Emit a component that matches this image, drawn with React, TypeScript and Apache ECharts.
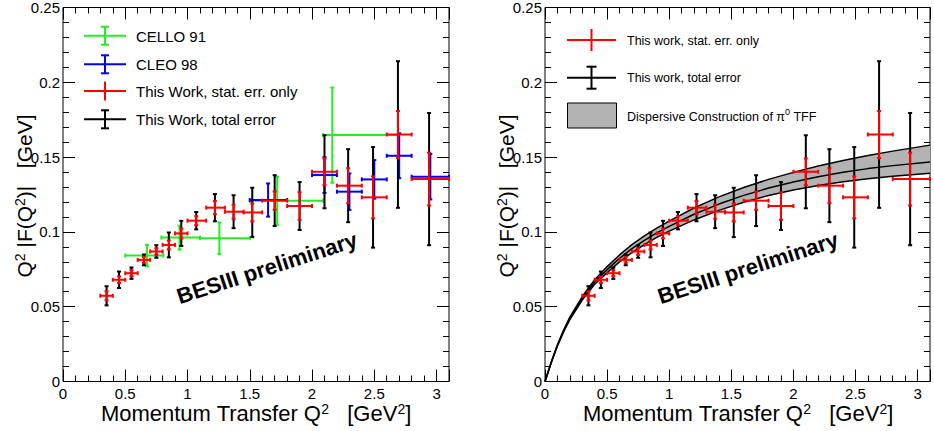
import React, { useEffect, useRef } from 'react';
import * as echarts from 'echarts';

// ---- This work (BESIII preliminary) ----
const q2 = [0.35, 0.45, 0.55, 0.65, 0.75, 0.85, 0.95, 1.07, 1.22, 1.37, 1.52, 1.70, 1.90, 2.10, 2.29, 2.49, 2.69, 2.94];
const binLo = [0.3, 0.4, 0.5, 0.6, 0.7, 0.8, 0.9, 1.0, 1.15, 1.3, 1.45, 1.6, 1.8, 2.0, 2.2, 2.4, 2.6, 2.8];
const binHi = [0.4, 0.5, 0.6, 0.7, 0.8, 0.9, 1.0, 1.15, 1.3, 1.45, 1.6, 1.8, 2.0, 2.2, 2.4, 2.6, 2.8, 3.1];
const tff = [0.0573, 0.0680, 0.0724, 0.0813, 0.0869, 0.0913, 0.0990, 0.1075, 0.1162, 0.1135, 0.1130, 0.1209, 0.1173, 0.1402, 0.1309, 0.1231, 0.1651, 0.1353];
const statErr = [0.0030, 0.0022, 0.0020, 0.0020, 0.0022, 0.0030, 0.0033, 0.0030, 0.0044, 0.0047, 0.0060, 0.0061, 0.0092, 0.0089, 0.0117, 0.0140, 0.0157, 0.0176];
const totErr = [0.0064, 0.0055, 0.0038, 0.0036, 0.0042, 0.0083, 0.0084, 0.0058, 0.0091, 0.0110, 0.0165, 0.0170, 0.0160, 0.0244, 0.0244, 0.0336, 0.0490, 0.0442];

// ---- CELLO 91 ----
const celloX = [0.675, 0.936, 1.256, 1.72, 2.163];
const celloLo = [0.5, 0.79, 1.1, 1.5, 2.09];
const celloHi = [0.806, 1.1, 1.5, 2.09, 2.69];
const celloY = [0.0842, 0.0962, 0.0958, 0.1209, 0.1647];
const celloErr = [0.0072, 0.0080, 0.0105, 0.0160, 0.0318];

// ---- CLEO 98 ----
const cleoX = [1.647, 2.1, 2.3, 2.5, 2.7, 2.95];
const cleoLo = [1.5, 2.0, 2.2, 2.4, 2.6, 2.8];
const cleoHi = [1.8, 2.2, 2.4, 2.6, 2.8, 3.1];
const cleoY = [0.1213, 0.1380, 0.1269, 0.1351, 0.1509, 0.1369];
const cleoErr = [0.0111, 0.0120, 0.0122, 0.0129, 0.0150, 0.0152];

// ---- Dispersive construction band ----
const bandX = [0, 0.05, 0.1, 0.15, 0.2, 0.3, 0.4, 0.5, 0.6, 0.7, 0.8, 0.9, 1.0, 1.2, 1.4, 1.6, 1.8, 2.0, 2.2, 2.4, 2.6, 2.8, 3.1];
const bandLow = [0, 0.0125, 0.0237, 0.0332, 0.0414, 0.0544, 0.0650, 0.0728, 0.0800, 0.0862, 0.0915, 0.0963, 0.1005, 0.1080, 0.1144, 0.1198, 0.1243, 0.1280, 0.1310, 0.1335, 0.1355, 0.1372, 0.1392];
const bandMid = [0, 0.0127, 0.0241, 0.0338, 0.0422, 0.0556, 0.0665, 0.0748, 0.0823, 0.0888, 0.0943, 0.0993, 0.1037, 0.1118, 0.1186, 0.1244, 0.1293, 0.1334, 0.1369, 0.1398, 0.1423, 0.1443, 0.1468];
const bandHigh = [0, 0.0129, 0.0245, 0.0344, 0.0430, 0.0568, 0.0680, 0.0768, 0.0846, 0.0915, 0.0973, 0.1025, 0.1072, 0.1160, 0.1234, 0.1297, 0.1351, 0.1398, 0.1440, 0.1477, 0.1510, 0.1540, 0.1580];

const FONT = '"Liberation Sans", Arial, Helvetica, sans-serif';
const GREEN = '#22ee22';
const BLUE = '#0000ff';
const RED = '#ff0000';
const GRAY = '#b3b3b3';

function errorBars(color: string, lw: number, cap: number, horiz: boolean) {
  return (_params: any, api: any) => {
    const x = api.value(0);
    const y = api.value(1);
    const c = api.coord([x, y]);
    const l = api.coord([api.value(2), y]);
    const r = api.coord([api.value(3), y]);
    const b = api.coord([x, api.value(4)]);
    const t = api.coord([x, api.value(5)]);
    const style = { stroke: color, lineWidth: lw, fill: 'none' };
    const seg = (x1: number, y1: number, x2: number, y2: number) => ({
      type: 'line',
      shape: { x1, y1, x2, y2 },
      style,
    });
    const ch: any[] = [];
    if (horiz) {
      ch.push(seg(l[0], c[1], r[0], c[1]));
      ch.push(seg(l[0], c[1] - cap, l[0], c[1] + cap));
      ch.push(seg(r[0], c[1] - cap, r[0], c[1] + cap));
    }
    ch.push(seg(c[0], b[1], c[0], t[1]));
    ch.push(seg(c[0] - cap, b[1], c[0] + cap, b[1]));
    ch.push(seg(c[0] - cap, t[1], c[0] + cap, t[1]));
    return { type: 'group', children: ch };
  };
}

function bandRender(_params: any, api: any) {
  if (_params.dataIndex !== 0) return null;
  const pts: number[][] = [];
  bandX.forEach((x, i) => pts.push(api.coord([x, bandHigh[i]])));
  for (let i = bandX.length - 1; i >= 0; i--) pts.push(api.coord([bandX[i], bandLow[i]]));
  return { type: 'polygon', shape: { points: pts }, style: { fill: GRAY, stroke: 'none' } };
}

const tickStyle = { color: '#000', width: 1 };

function fmt(v: number) {
  return String(parseFloat(v.toFixed(3)));
}

function xAxes(g: number) {
  const base = {
    gridIndex: g,
    type: 'value',
    min: 0,
    max: 3.1,
    splitLine: { show: false },
    axisLine: { show: false, onZero: false },
    axisLabel: { show: false },
  };
  const major = (pos: string, lab: boolean) => ({
    ...base,
    position: pos,
    interval: 0.5,
    axisTick: { show: true, inside: true, length: 12, lineStyle: tickStyle },
    axisLabel: lab
      ? {
          show: true,
          margin: 4,
          fontSize: 15,
          lineHeight: 15,
          fontFamily: FONT,
          color: '#000',
          formatter: (v: number) => (Math.abs(v * 2 - Math.round(v * 2)) < 1e-6 ? fmt(v) : ''),
        }
      : { show: false },
  });
  const minor = (pos: string) => ({
    ...base,
    position: pos,
    interval: 0.1,
    axisTick: { show: true, inside: true, length: 6, lineStyle: tickStyle },
  });
  return [minor('bottom'), major('bottom', true), minor('top'), major('top', false)];
}

function yAxes(g: number) {
  const base = {
    gridIndex: g,
    type: 'value',
    min: 0,
    max: 0.25,
    splitLine: { show: false },
    axisLine: { show: false, onZero: false },
    axisLabel: { show: false },
  };
  const major = (pos: string, lab: boolean) => ({
    ...base,
    position: pos,
    interval: 0.05,
    axisTick: { show: true, inside: true, length: 12, lineStyle: tickStyle },
    axisLabel: lab
      ? { show: true, margin: 3, fontSize: 15, lineHeight: 15, fontFamily: FONT, color: '#000', formatter: (v: number) => fmt(v) }
      : { show: false },
  });
  const minor = (pos: string) => ({
    ...base,
    position: pos,
    interval: 0.01,
    axisTick: { show: true, inside: true, length: 6, lineStyle: tickStyle },
  });
  return [minor('left'), major('left', true), minor('right'), major('right', false)];
}

function statData() {
  return q2.map((x, i) => [x, tff[i], binLo[i], binHi[i], tff[i] - statErr[i], tff[i] + statErr[i]]);
}
function totData() {
  return q2.map((x, i) => [x, tff[i], binLo[i], binHi[i], tff[i] - totErr[i], tff[i] + totErr[i]]);
}

function richText(text: string, size: number, supSize: number, aLH: number, sLH: number) {
  return {
    text,
    rich: {
      a: { fontSize: size, fontFamily: FONT, fill: '#000', lineHeight: aLH, verticalAlign: 'bottom' },
      s: { fontSize: supSize, fontFamily: FONT, fill: '#000', lineHeight: sLH, verticalAlign: 'top' },
    },
  };
}

function seg(x1: number, y1: number, x2: number, y2: number, color: string, lw = 2) {
  return { type: 'line', silent: true, shape: { x1, y1, x2, y2 }, style: { stroke: color, lineWidth: lw } };
}

function legendCross(cx: number, cy: number, half: number, vHalf: number, color: string, cap: number) {
  const els: any[] = [seg(cx - half, cy, cx + half, cy, color), seg(cx, cy - vHalf, cx, cy + vHalf, color)];
  if (cap > 0) {
    els.push(seg(cx - cap, cy - vHalf, cx + cap, cy - vHalf, color));
    els.push(seg(cx - cap, cy + vHalf, cx + cap, cy + vHalf, color));
  }
  return els;
}

function txt(x: number, y: number, text: string, size: number, extra: any = {}) {
  return {
    type: 'text',
    silent: true,
    x,
    y,
    style: {
      text,
      fontSize: size,
      fontFamily: FONT,
      fill: '#000',
      align: 'left',
      verticalAlign: 'middle',
      textAlign: 'left',
      textVerticalAlign: 'middle',
      ...extra,
    },
  };
}

function buildOption() {
  const S = '\u00a0';
  const graphics: any[] = [];
  // Left legend
  graphics.push(...legendCross(105, 35.7, 21, 9, GREEN, 4));
  graphics.push(txt(136, 36, 'CELLO 91', 15));
  graphics.push(...legendCross(105, 64.3, 21, 9, BLUE, 4));
  graphics.push(txt(136, 64.5, 'CLEO 98', 15));
  graphics.push(...legendCross(105, 91, 21, 9.5, RED, 0));
  graphics.push(txt(136, 91.5, 'This Work, stat. err. only', 15));
  graphics.push(...legendCross(105, 119.3, 21, 9, '#000', 4));
  graphics.push(txt(136, 119.5, 'This Work, total error', 15));
  // Right legend
  graphics.push(...legendCross(591.5, 40, 24.5, 11, RED, 0));
  graphics.push(txt(627, 40.5, 'This work, stat. err. only', 12.5));
  graphics.push(...legendCross(591.5, 77.7, 24.5, 11, '#000', 5));
  graphics.push(txt(627, 78, 'This work, total error', 12.5));
  graphics.push({
    type: 'rect',
    silent: true,
    shape: { x: 567.5, y: 103, width: 49, height: 25 },
    style: { fill: GRAY, stroke: '#000', lineWidth: 1 },
  });
  graphics.push({
    type: 'text',
    silent: true,
    x: 627,
    y: 115.5,
    style: {
      ...richText(`{a|Dispersive Construction of \u03c0}{s|0}{a|${S}TFF}`, 12.5, 9, 16.5, 10),
      align: 'left',
      verticalAlign: 'middle',
      textAlign: 'left',
      textVerticalAlign: 'middle',
    },
  });
  // BESIII preliminary
  const rot = (18 * Math.PI) / 180;
  [267, 748].forEach((cx) => {
    graphics.push({
      type: 'text',
      silent: true,
      x: cx,
      y: 268,
      rotation: rot,
      style: {
        text: 'BESIII preliminary',
        fontSize: 22,
        fontWeight: 'bold',
        fontFamily: FONT,
        fill: '#000',
        align: 'center',
        verticalAlign: 'middle',
        textAlign: 'center',
        textVerticalAlign: 'middle',
      },
    });
  });
  // Axis titles
  const xTitle = `{a|Momentum Transfer Q}{s|2}{a|${S}${S}${S}[GeV}{s|2}{a|]}`;
  const yTitle = `{a|Q}{s|2}{a|${S}|F(Q}{s|2}{a|)|${S}${S}${S}[GeV]}`;
  [256, 738].forEach((cx) => {
    graphics.push({
      type: 'text',
      silent: true,
      x: cx,
      y: 413,
      style: {
        ...richText(xTitle, 22, 14, 22, 14),
        align: 'center',
        verticalAlign: 'middle',
        textAlign: 'center',
        textVerticalAlign: 'middle',
      },
    });
  });
  [24, 506].forEach((cx) => {
    graphics.push({
      type: 'text',
      silent: true,
      x: cx,
      y: 196,
      rotation: Math.PI / 2,
      style: {
        ...richText(yTitle, 21, 14, 22, 14),
        align: 'center',
        verticalAlign: 'middle',
        textAlign: 'center',
        textVerticalAlign: 'middle',
      },
    });
  });

  const custom = (name: string, data: any[], xi: number, render: any, z: number) => ({
    type: 'custom',
    name,
    xAxisIndex: xi,
    yAxisIndex: xi,
    data,
    renderItem: render,
    encode: { x: 0, y: 1 },
    silent: true,
    z,
  });

  const bandLine = (vals: number[]) => ({
    type: 'line',
    xAxisIndex: 5,
    yAxisIndex: 5,
    data: bandX.map((x, i) => [x, vals[i]]),
    showSymbol: false,
    symbol: 'none',
    lineStyle: { color: '#000', width: 1.5 },
    silent: true,
    z: 3,
  });

  return {
    animation: false,
    backgroundColor: '#fff',
    grid: [
      { left: 63, top: 7.5, width: 386, height: 374, show: true, borderColor: '#000', borderWidth: 1, backgroundColor: 'transparent', containLabel: false },
      { left: 545, top: 7.5, width: 385, height: 374, show: true, borderColor: '#000', borderWidth: 1, backgroundColor: 'transparent', containLabel: false },
    ],
    xAxis: [...xAxes(0), ...xAxes(1)],
    yAxis: [...yAxes(0), ...yAxes(1)],
    graphic: { elements: graphics },
    series: [
      custom('CELLO 91', celloX.map((x, i) => [x, celloY[i], celloLo[i], celloHi[i], celloY[i] - celloErr[i], celloY[i] + celloErr[i]]), 1, errorBars(GREEN, 2, 2, true), 2),
      custom('CLEO 98', cleoX.map((x, i) => [x, cleoY[i], cleoLo[i], cleoHi[i], cleoY[i] - cleoErr[i], cleoY[i] + cleoErr[i]]), 1, errorBars(BLUE, 2, 2, true), 3),
      custom('total L', totData(), 1, errorBars('#000', 2, 2, false), 4),
      custom('stat L', statData(), 1, errorBars(RED, 2, 2, true), 5),
      custom('band', bandX.map((x, i) => [x, bandMid[i]]), 5, bandRender, 1),
      bandLine(bandLow),
      bandLine(bandMid),
      bandLine(bandHigh),
      custom('total R', totData(), 5, errorBars('#000', 2, 2, false), 4),
      custom('stat R', statData(), 5, errorBars(RED, 2, 2, true), 5),
    ],
  };
}

export default function App() {
  const ref = useRef<HTMLDivElement>(null);
  useEffect(() => {
    document.body.style.margin = '0';
    const chart = echarts.init(ref.current!, null, { renderer: 'svg' });
    chart.setOption(buildOption() as any);
    return () => chart.dispose();
  }, []);
  return <div ref={ref} style={{ width: 934, height: 431, position: 'absolute', left: 0, top: 0, background: '#fff' }} />;
}
